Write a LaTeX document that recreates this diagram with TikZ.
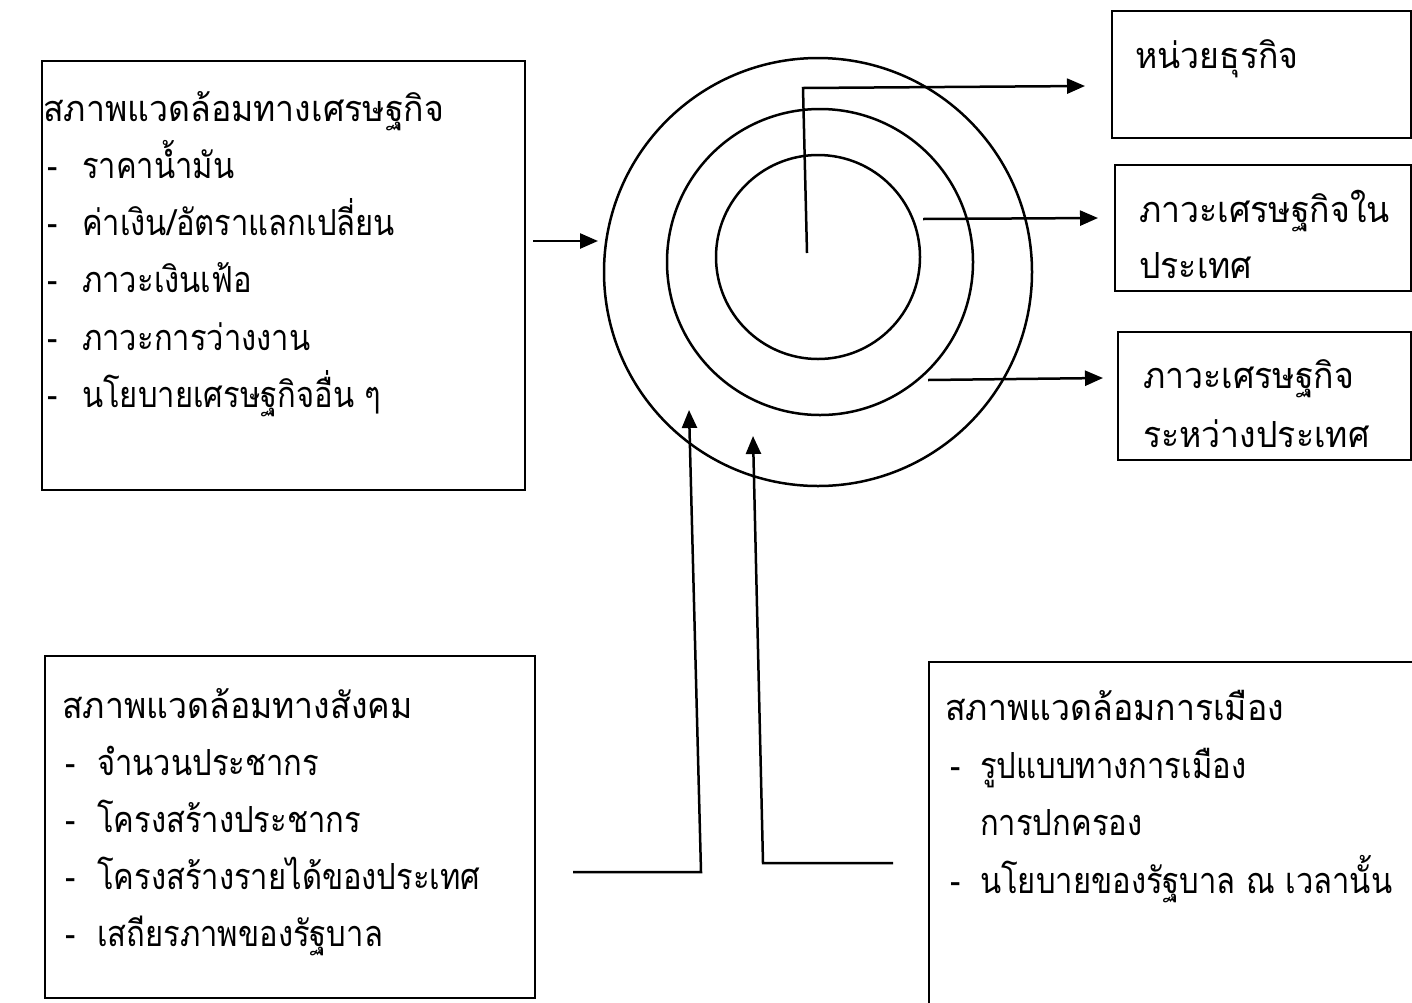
\documentclass[tikz,border=0pt]{standalone}
\usepackage{fontspec}
\newfontfamily\thaifont[Script=Thai,FakeStretch=0.94]{Loma}
\newfontfamily\thaiitem[Script=Thai,FakeStretch=0.86]{Loma}
\usetikzlibrary{arrows.meta}
\begin{document}
\begin{tikzpicture}[x=1pt,y=-1pt,
  boxst/.style={draw,line width=2pt,rectangle,inner sep=0pt},
  ringst/.style={draw,line width=2.5pt,circle,inner sep=0pt},
  ttl/.style={anchor=base west,inner sep=0pt,font=\thaifont\fontsize{36}{40}\selectfont},
  txt/.style={anchor=base west,inner sep=0pt,font=\thaiitem\fontsize{36}{40}\selectfont},
  arr/.style={line width=2.5pt,-{Triangle[length=18pt,width=15pt]}},
  ln/.style={line width=2.5pt}]
\useasboundingbox (0,0) rectangle (1412,1002);
\fill[white] (0,0) rectangle (1412,1002);
% boxes
\node[boxst,minimum width=483pt,minimum height=429pt] (econ) at (283.5,275.5) {};
\node[boxst,minimum width=490pt,minimum height=342pt] (soc) at (290,827) {};
\node[boxst,minimum width=511pt,minimum height=368pt] (pol) at (1184.5,846) {};
\node[boxst,minimum width=299pt,minimum height=127pt] (b1) at (1261.5,74.5) {};
\node[boxst,minimum width=296pt,minimum height=126pt] (b2) at (1263,228) {};
\node[boxst,minimum width=293pt,minimum height=128pt] (b3) at (1264.5,396) {};
% rings
\node[ringst,minimum size=428pt] (outer) at (818,272) {};
\node[ringst,minimum size=306pt] (mid) at (820,262) {};
\node[ringst,minimum size=204pt] (inner) at (818,257) {};
% texts economic
\node[ttl] (et) at (43,121) {สภาพแวดล้อมทางเศรษฐกิจ};
\node[txt] (e1) at (47,178) {\makebox[35pt][l]{-}ราคาน้ำมัน};
\node[txt] (e2) at (47,235) {\makebox[35pt][l]{-}ค่าเงิน/อัตราแลกเปลี่ยน};
\node[txt] (e3) at (47,292) {\makebox[35pt][l]{-}ภาวะเงินเฟ้อ};
\node[txt] (e4) at (47,350) {\makebox[35pt][l]{-}ภาวะการว่างงาน};
\node[txt] (e5) at (47,407) {\makebox[35pt][l]{-}นโยบายเศรษฐกิจอื่น ๆ};
% social
\node[ttl] (st) at (62,718) {สภาพแวดล้อมทางสังคม};
\node[txt] (s1) at (65,775) {\makebox[32pt][l]{-}จำนวนประชากร};
\node[txt] (s2) at (65,832) {\makebox[32pt][l]{-}โครงสร้างประชากร};
\node[txt] (s3) at (65,889) {\makebox[32pt][l]{-}โครงสร้างรายได้ของประเทศ};
\node[txt] (s4) at (65,946) {\makebox[32pt][l]{-}เสถียรภาพของรัฐบาล};
% political
\node[ttl] (pt) at (945,720) {สภาพแวดล้อมการเมือง};
\node[txt] (p1) at (950,778) {\makebox[30pt][l]{-}รูปแบบทางการเมือง};
\node[txt] (p2) at (980,835) {การปกครอง};
\node[txt] (p3) at (950,893) {\makebox[30pt][l]{-}นโยบายของรัฐบาล ณ เวลานั้น};
% right boxes
\node[ttl] (r1) at (1135,68) {หน่วยธุรกิจ};
\node[ttl] (r2a) at (1139,222) {ภาวะเศรษฐกิจใน};
\node[ttl] (r2b) at (1139,278) {ประเทศ};
\node[ttl] (r3a) at (1143,388) {ภาวะเศรษฐกิจ};
\node[ttl] (r3b) at (1143,447) {ระหว่างประเทศ};
% connector coordinates
\coordinate (ea) at (533,241);
\coordinate (eb) at (598,241);
\coordinate (c0) at (807,253);
\coordinate (c1) at (803,88);
\coordinate (t1) at (1085,86);
\coordinate (m0) at (923,219);
\coordinate (t2) at (1098,218);
\coordinate (o0) at (928,380);
\coordinate (t3) at (1103,378);
\coordinate (sa) at (573,872);
\coordinate (sb) at (701,872);
\coordinate (st1) at (689,410);
\coordinate (pa) at (893,863);
\coordinate (pb) at (763,863);
\coordinate (pt1) at (753,436);
% connectors
\draw[arr] (ea) -- (eb);
\draw[arr] (c0) -- (c1) -- (t1);
\draw[arr] (m0) -- (t2);
\draw[arr] (o0) -- (t3);
\draw[arr] (sa) -- (sb) -- (st1);
\draw[arr] (pa) -- (pb) -- (pt1);
\end{tikzpicture}
\end{document}
